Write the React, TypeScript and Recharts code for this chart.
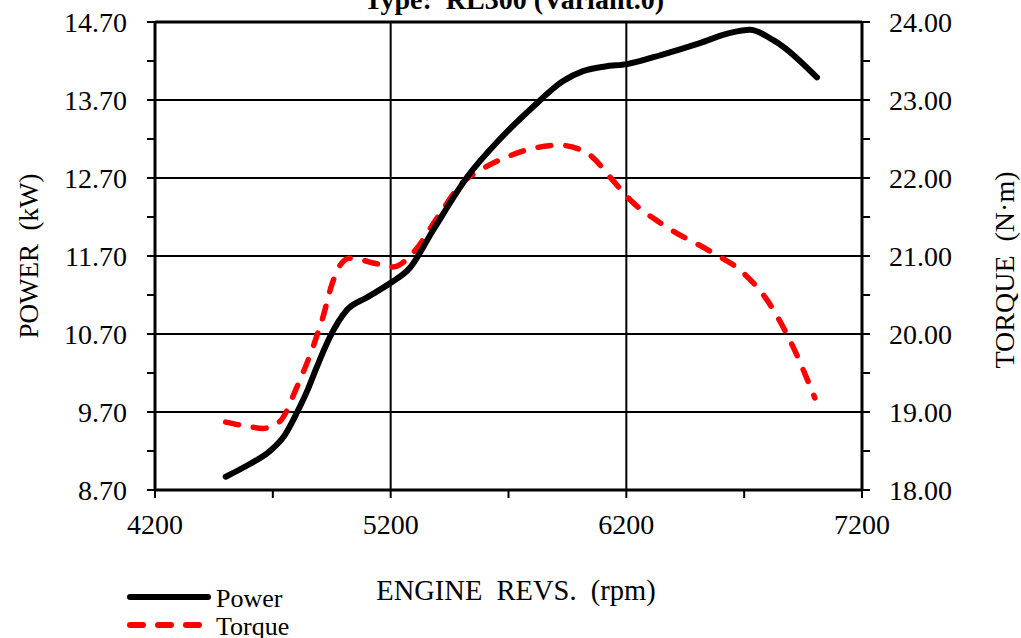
import React from 'react';
import { LineChart, Line, XAxis, YAxis, ReferenceLine } from 'recharts';

const rpmMajorTicks = [4200, 5200, 6200, 7200];
const rpmMinorTicks = [4700, 5700, 6700];
const powerMajorTicks = [8.7, 9.7, 10.7, 11.7, 12.7, 13.7, 14.7];
const powerMinorTicks = [9.2, 10.2, 11.2, 12.2, 13.2, 14.2];
const torqueMajorTicks = [18, 19, 20, 21, 22, 23, 24];
const torqueMinorTicks = [18.5, 19.5, 20.5, 21.5, 22.5, 23.5];

const powerRpm = [4500, 4600, 4688, 4750, 4802, 4850, 4887, 4942, 5015, 5100, 5197, 5282, 5380, 5524, 5664, 5800, 5930, 6016, 6110, 6203, 6350, 6512, 6640, 6724, 6822, 7009];
const powerKw = [8.87, 9.03, 9.2, 9.4, 9.69, 10.0, 10.28, 10.66, 11.01, 11.17, 11.35, 11.55, 12.03, 12.71, 13.2, 13.6, 13.94, 14.07, 14.13, 14.16, 14.28, 14.43, 14.56, 14.6, 14.47, 13.99];

const torqueRpm = [4500, 4603, 4658, 4730, 4802, 4870, 4913, 4950, 4990, 5027, 5142, 5210, 5295, 5400, 5507, 5580, 5693, 5804, 5918, 6033, 6143, 6203, 6372, 6568, 6682, 6796, 6894, 7000];
const torqueNm = [18.87, 18.81, 18.79, 18.88, 19.32, 19.83, 20.22, 20.63, 20.9, 20.97, 20.9, 20.86, 21.04, 21.5, 21.95, 22.1, 22.27, 22.38, 22.42, 22.32, 21.97, 21.76, 21.37, 21.04, 20.82, 20.44, 19.92, 19.18];

const powerData = powerRpm.map((rpm, i) => ({ rpm, power: powerKw[i] }));
const torqueData = torqueRpm.map((rpm, i) => ({ rpm, torque: torqueNm[i] }));

const FONT = '"Liberation Serif", "Times New Roman", serif';
const sortNum = (a: number[]) => [...a].sort((x, y) => x - y);
const isMajor = (arr: number[], v: number) => arr.some((m) => Math.abs(m - v) < 1e-6);

export default function App() {
  const tickStyle = { fill: '#000', fontSize: 28, fontFamily: FONT };
  return (
    <div style={{ position: 'absolute', left: 0, top: 0, width: 1021, height: 638, background: '#fff' }}>
      <LineChart width={1021} height={638} margin={{ top: 22, right: 0, bottom: 108, left: 0 }}>
        <XAxis
          dataKey="rpm"
          type="number"
          domain={[4200, 7200]}
          ticks={sortNum([...rpmMajorTicks, ...rpmMinorTicks])}
          tickFormatter={(v: number) => (isMajor(rpmMajorTicks, v) ? String(v) : '')}
          allowDataOverflow
          height={40}
          tick={tickStyle}
          tickSize={8}
          tickMargin={16}
          axisLine={{ stroke: '#000', strokeWidth: 3 }}
          tickLine={{ stroke: '#000', strokeWidth: 2 }}
          interval={0}
        />
        <YAxis
          yAxisId="left"
          orientation="left"
          width={155}
          domain={[8.7, 14.7]}
          ticks={sortNum([...powerMajorTicks, ...powerMinorTicks])}
          tickFormatter={(v: number) => (isMajor(powerMajorTicks, v) ? v.toFixed(2) : '')}
          allowDataOverflow
          tick={tickStyle}
          tickSize={8}
          tickMargin={20}
          axisLine={{ stroke: '#000', strokeWidth: 3 }}
          tickLine={{ stroke: '#000', strokeWidth: 2 }}
          interval={0}
        />
        <YAxis
          yAxisId="right"
          orientation="right"
          width={159}
          domain={[18, 24]}
          ticks={sortNum([...torqueMajorTicks, ...torqueMinorTicks])}
          tickFormatter={(v: number) => (isMajor(torqueMajorTicks, v) ? v.toFixed(2) : '')}
          allowDataOverflow
          tick={tickStyle}
          tickSize={8}
          tickMargin={19}
          axisLine={{ stroke: '#000', strokeWidth: 3 }}
          tickLine={{ stroke: '#000', strokeWidth: 2 }}
          interval={0}
        />
        {powerMajorTicks.map((v) => (
          <ReferenceLine key={'h' + v} yAxisId="left" y={v} stroke="#000" strokeWidth={v === 14.7 ? 3 : 2} ifOverflow="visible" />
        ))}
        {rpmMajorTicks.slice(1, -1).map((v) => (
          <ReferenceLine key={'v' + v} yAxisId="left" x={v} stroke="#000" strokeWidth={2} />
        ))}
        <Line
          yAxisId="right"
          data={torqueData}
          dataKey="torque"
          type="monotone"
          stroke="#ff0000"
          strokeWidth={5.5}
          strokeDasharray="13 15"
          strokeLinecap="round"
          dot={false}
          isAnimationActive={false}
        />
        <Line
          yAxisId="left"
          data={powerData}
          dataKey="power"
          type="monotone"
          stroke="#000"
          strokeWidth={6}
          strokeLinecap="round"
          dot={false}
          isAnimationActive={false}
        />
      </LineChart>
      <svg width={1021} height={638} style={{ position: 'absolute', left: 0, top: 0, pointerEvents: 'none' }}>
        <text x={514} y={9} textAnchor="middle" fontFamily={FONT} fontSize={28} fontWeight="bold" style={{ whiteSpace: 'pre' }}>
          {'Type:  RL300 (Variant.0)'}
        </text>
        <text
          x={0}
          y={0}
          transform="translate(38,256) rotate(-90)"
          textAnchor="middle"
          fontFamily={FONT}
          fontSize={27}
          style={{ whiteSpace: 'pre' }}
        >
          {'POWER  (kW)'}
        </text>
        <text
          x={0}
          y={0}
          transform="translate(1014,270) rotate(-90)"
          textAnchor="middle"
          fontFamily={FONT}
          fontSize={28}
          style={{ whiteSpace: 'pre' }}
        >
          {'TORQUE  (N·m)'}
        </text>
        <text x={516} y={600} textAnchor="middle" fontFamily={FONT} fontSize={28.5} style={{ whiteSpace: 'pre' }}>
          {'ENGINE  REVS.  (rpm)'}
        </text>
        <line x1={130} y1={597} x2={208} y2={597} stroke="#000" strokeWidth={6} strokeLinecap="round" />
        <text x={216} y={607} fontFamily={FONT} fontSize={26}>Power</text>
        <line x1={130} y1={625} x2={208} y2={625} stroke="#ff0000" strokeWidth={6} strokeLinecap="round" strokeDasharray="13 15" />
        <text x={216} y={635} fontFamily={FONT} fontSize={26}>Torque</text>
      </svg>
    </div>
  );
}
